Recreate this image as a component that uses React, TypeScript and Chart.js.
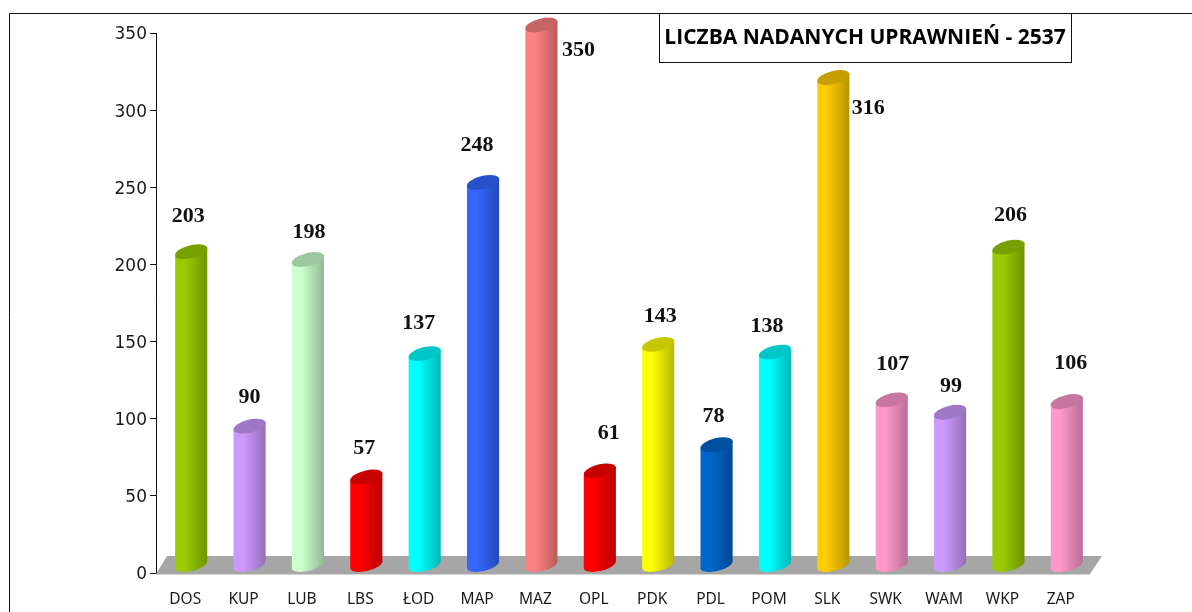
import React, { useEffect, useRef } from "react";
import { Chart, registerables, BarController, BarElement } from "chart.js";

const categories = ["DOS", "KUP", "LUB", "LBS", "ŁOD", "MAP", "MAZ", "OPL", "PDK", "PDL", "POM", "SLK", "SWK", "WAM", "WKP", "ZAP"];
const values = [203, 90, 198, 57, 137, 248, 350, 61, 143, 78, 138, 316, 107, 99, 206, 106];
const barColors = ["#99CC00", "#CC99FF", "#CCFFCC", "#FF0000", "#00FFFF", "#3366FF", "#FF8080", "#FF0000", "#FFFF00", "#0066CC", "#00FFFF", "#FFCC00", "#FF99CC", "#CC99FF", "#99CC00", "#FF99CC"];
const yTicks = [0, 50, 100, 150, 200, 250, 300, 350];
const titleText = "LICZBA NADANYCH UPRAWNIEŃ - 2537";
// label placement relative to each cylinder's top
const labelOffsetX = [-3, 0, 1, -2, -6, -6, 37, 9, 2, -3, -8, 35, 1, 1, 2, 4];
const labelOffsetY = [-35, -29, -27, -29, -30, -37, 25, -38, -28, -28, -26, 31, -36, -26, -32, -38];

const shade = (hex: string, k: number) => {
  const n = parseInt(hex.slice(1), 16);
  const f = (v: number) => Math.round(v * k);
  return `rgb(${f((n >> 16) & 255)},${f((n >> 8) & 255)},${f(n & 255)})`;
};

const DX = 6, DY = -8, ROT = -0.24, RY = 6.5;

class CylinderElement extends BarElement {
  static id = "cylinder";
  draw(ctx: CanvasRenderingContext2D) {
    const el: any = this;
    const color = el.options.backgroundColor as string;
    const cx = el.x + DX, top = el.y + DY, bottom = el.base + DY;
    const rx = el.width / 2 / Math.cos(ROT);
    const ex = rx * Math.cos(ROT), ey = -rx * Math.sin(ROT);
    const g = ctx.createLinearGradient(cx - ex, 0, cx + ex, 0);
    g.addColorStop(0, color);
    g.addColorStop(0.3, color);
    g.addColorStop(1, shade(color, 0.72));
    ctx.save();
    ctx.fillStyle = g;
    ctx.beginPath();
    ctx.moveTo(cx - ex, top + ey);
    ctx.lineTo(cx + ex, top - ey);
    ctx.lineTo(cx + ex, bottom - ey);
    ctx.ellipse(cx, bottom, rx, RY, ROT, 0, Math.PI, false);
    ctx.closePath();
    ctx.fill();
    ctx.fillStyle = shade(color, 0.78);
    ctx.beginPath();
    ctx.ellipse(cx, top, rx, RY, ROT, 0, Math.PI * 2);
    ctx.fill();
    ctx.restore();
  }
}

class CylinderController extends BarController {
  static id = "cylinder";
  static defaults = { ...(BarController as any).defaults, dataElementType: "cylinder" };
  static overrides = (BarController as any).overrides;
}

const nudged = new WeakSet<object>();

const framePlugin = {
  id: "frame",
  beforeDraw(chart: any) {
    const items = chart.scales.y.getLabelItems();
    if (!nudged.has(items)) {
      nudged.add(items);
      items.forEach((it: any) => { it.options.translation[1] += 2; });
    }
  },
  beforeDatasetsDraw(chart: any) {
    const { ctx, chartArea: a } = chart;
    ctx.save();
    ctx.fillStyle = "#A6A6A6";
    ctx.beginPath();
    ctx.moveTo(a.left, a.bottom + 1);
    ctx.lineTo(a.left + 11, a.bottom - 17);
    ctx.lineTo(a.right + 12, a.bottom - 17);
    ctx.lineTo(a.right, a.bottom + 1);
    ctx.closePath();
    ctx.fill();
    ctx.fillStyle = "#D4D4D4";
    ctx.fillRect(a.left, a.bottom + 1, a.right - a.left, 1);
    ctx.restore();
  },
  afterDatasetsDraw(chart: any) {
    const { ctx } = chart;
    const meta = chart.getDatasetMeta(0);
    ctx.save();
    ctx.fillStyle = "#111";
    ctx.font = "bold 22px 'Liberation Serif'";
    ctx.textAlign = "center";
    ctx.textBaseline = "middle";
    meta.data.forEach((el: any, i: number) => {
      ctx.fillText(String(values[i]), el.x + DX + labelOffsetX[i], el.y + DY + labelOffsetY[i]);
    });
    ctx.strokeStyle = "#111";
    ctx.lineWidth = 1;
    ctx.beginPath();
    ctx.moveTo(9.5, 612);
    ctx.lineTo(9.5, 13.5);
    ctx.lineTo(1192, 13.5);
    ctx.stroke();
    ctx.fillStyle = "#fff";
    ctx.fillRect(659.5, 13.5, 412, 49);
    ctx.strokeRect(659.5, 13.5, 412, 49);
    ctx.fillStyle = "#000";
    ctx.font = "bold 21px 'Open Sans'";
    ctx.fillText(titleText, 865, 38);
    ctx.restore();
  },
};

Chart.register(...registerables, CylinderElement, CylinderController);

export default function App() {
  const ref = useRef<HTMLCanvasElement>(null);
  useEffect(() => {
    const chart = new Chart(ref.current!, {
      type: "cylinder" as any,
      data: {
        labels: categories,
        datasets: [{
          data: values,
          backgroundColor: barColors,
          barPercentage: 0.55,
          categoryPercentage: 1,
          clip: false as any,
        }],
      },
      plugins: [framePlugin],
      options: {
        responsive: false,
        animation: false,
        layout: { padding: { left: 0, top: 33, right: 102, bottom: 0 } },
        plugins: { legend: { display: false }, tooltip: { enabled: false }, title: { display: false } },
        scales: {
          x: {
            grid: { display: false, drawTicks: false },
            border: { display: false },
            afterFit: (s: any) => { s.height = 39; },
            ticks: { color: "#1a1a1a", font: { family: "'Noto Sans'", size: 15.5 }, padding: 17, maxRotation: 0, autoSkip: false },
          },
          y: {
            min: 0,
            max: 350,
            afterFit: (s: any) => { s.width = 156; },
            afterBuildTicks: (s: any) => { s.ticks = yTicks.map((value) => ({ value })); },
            grid: { drawOnChartArea: false, tickLength: 6, color: "#111" },
            border: { display: true, color: "#111" },
            ticks: { color: "#1a1a1a", font: { family: "'DejaVu Sans'", size: 17 }, padding: 3 },
          },
        },
      } as any,
    } as any);
    return () => chart.destroy();
  }, []);
  return (
    <div style={{ position: "fixed", left: 0, top: 0, width: 1192, height: 612, background: "#fff", overflow: "hidden" }}>
      <canvas ref={ref} width={1192} height={612} style={{ display: "block" }} />
    </div>
  );
}
